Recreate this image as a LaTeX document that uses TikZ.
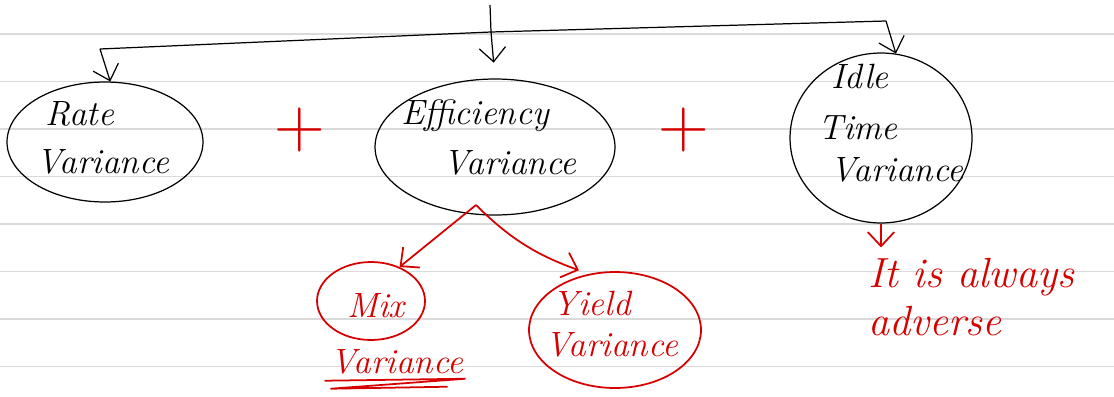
\documentclass[tikz,border=0pt]{standalone}
\usepackage{tikz}
\usetikzlibrary{arrows.meta,shapes.geometric,calc}
\definecolor{ink}{RGB}{214,0,0}
\definecolor{rulegray}{RGB}{218,218,218}
\tikzset{
  hand/.style={font=\fontsize{20}{24}\selectfont\itshape, inner sep=0pt},
  bubble/.style={ellipse, draw, inner sep=0pt, line width=0.7pt},
  redbubble/.style={bubble, draw=ink, line width=1pt},
  plus/.style={text=ink, font=\fontsize{40}{40}\selectfont, inner sep=0pt},
  rule/.style={rulegray, line width=0.9pt},
}
\begin{document}
\begin{tikzpicture}[x=0.02cm, y=-0.02cm, >={Straight Barb[length=8pt,width=15pt]}]
\fill[white] (0,0) rectangle (1114,396);
\useasboundingbox (0,0) rectangle (1114,396);
% ruled paper
\foreach \y in {34,81.5,129,176.5,224,271.5,319,366.5}
  \draw[rule] (0,\y) -- (1114,\y);

% the three parts
\node[bubble, minimum width=3.92cm, minimum height=2.4cm] (rate) at (105,142) {};
\node[hand] (rateA) at (80,114) {Rate};
\node[hand] (rateB) at (103,162) {Variance};

\node[bubble, minimum width=4.8cm, minimum height=2.72cm] (eff) at (495,147) {};
\node[hand] (effA) at (475,116) {Efficiency};
\node[hand] (effB) at (510,163) {Variance};

\node[bubble, minimum width=3.64cm, minimum height=3.4cm] (idle) at (881,138) {};
\node[hand] (idleA) at (860,76) {Idle};
\node[hand] (idleB) at (858,128) {Time};
\node[hand] (idleC) at (897,170) {Variance};

\node[plus] (p1) at (300,130) {+};
\node[plus] (p2) at (684,130) {+};

% bracket on top
\coordinate (top) at (490,5);
\coordinate (jn) at (491,32);
\coordinate (lft) at (100,49);
\coordinate (rgt) at (886,21);
\draw[line width=0.7pt] (top) -- (jn);
\draw[line width=0.7pt] (lft) -- (jn) -- (rgt);
\draw[->, line width=0.7pt] (lft) -- (rate.85);
\draw[->, line width=0.7pt, shorten >=9pt] (jn) -- (eff.north);
\draw[->, line width=0.7pt] (rgt) -- (idle.80);

% split of the efficiency variance
\node[redbubble, minimum width=2.16cm, minimum height=1.56cm] (mix) at (371,301) {};
\node[hand, text=ink] (mixA) at (376,306) {Mix};
\node[hand, text=ink] (mixB) at (397,362) {Variance};
\draw[ink, line width=1pt] ($(mixB.south west)+(-6,6)$) -- ($(mixB.south east)+(2,4)$)
  -- ($(mixB.south west)+(0,14)$) -- ($(mixB.south east)+(-16,12)$);

\node[redbubble, minimum width=3.44cm, minimum height=2.32cm] (yield) at (615,330) {};
\node[hand, text=ink] (yieldA) at (592,303) {Yield};
\node[hand, text=ink] (yieldB) at (612,345) {Variance};

\coordinate (split) at (476,205);
\draw[->, ink, line width=1pt] (split) -- (mix.50);
\draw[->, ink, line width=1pt, shorten >=6pt] (split) to[out=-45, in=160] (yield.115);

% note under idle time
\node[hand, text=ink, font=\fontsize{24}{27}\selectfont\itshape, align=left, anchor=north west]
  (note) at (868,258) {It is always\\adverse};
\draw[->, ink, line width=1pt, shorten >=6pt] (idle.south) -- (note.north -| idle.south);
\end{tikzpicture}
\end{document}
